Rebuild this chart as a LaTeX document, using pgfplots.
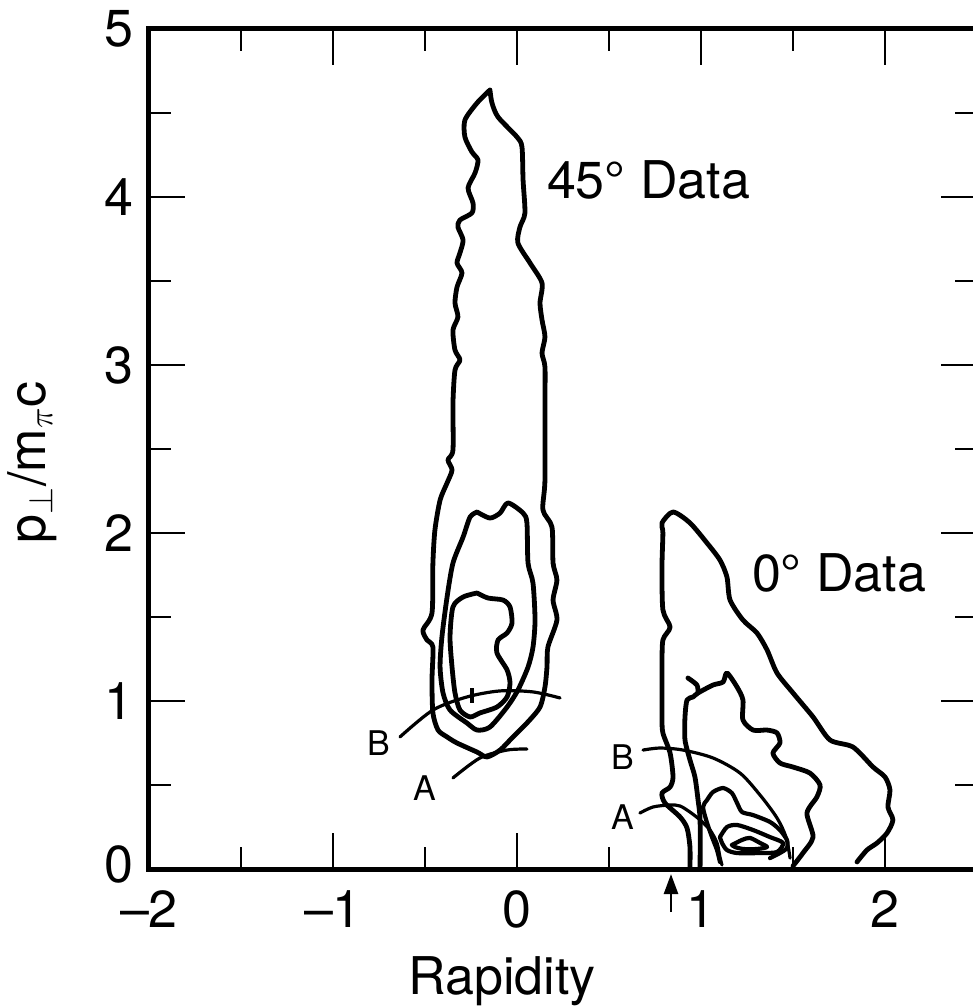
\documentclass[border=0pt]{standalone}
\usepackage{fontspec}
\setmainfont{TeX Gyre Heros}
\usepackage{pgfplots}
\pgfplotsset{compat=1.18}
\usetikzlibrary{arrows.meta}
\pgfplotsset{
  ctr/.style={black, line width=2.4pt, no markers, smooth, tension=0.45, line join=round, line cap=round},
  arc/.style={black, line width=1.6pt, no markers, smooth, tension=0.5, line cap=round},
}
\begin{document}
\begin{tikzpicture}
\begin{axis}[
  at={(0,0)}, anchor=south west, scale only axis,
  width=414pt, height=420pt,
  xmin=-2, xmax=2.5, ymin=0, ymax=5,
  clip=false,
  axis line style={line width=2.5pt},
  tick align=inside,
  major tick length=18pt, minor tick length=11pt,
  tick style={black, line width=1.3pt},
  xtick={-2,-1,0,1,2}, xticklabels={--2,--1,0,1,2},
  ytick={0,1,2,3,4,5}, yticklabels={\raisebox{5pt}{0},1,2,3,4,5},
  minor xtick={-1.5,-0.5,0.5,1.5},
  minor ytick={0.5,1.5,2.5,3.5,4.5},
  tick label style={font=\fontsize{26}{30}\selectfont, inner sep=0pt},
  xticklabel style={yshift=-10.5pt},
  yticklabel style={xshift=-7.5pt},
]
% 45 deg data: outer contour
\addplot[ctr] coordinates {
(-0.147,4.637) (-0.217,4.560) (-0.283,4.458) (-0.283,4.357) (-0.245,4.268)
(-0.212,4.220) (-0.228,4.143) (-0.266,4.054) (-0.239,3.964) (-0.245,3.905)
(-0.310,3.863) (-0.321,3.821) (-0.293,3.744) (-0.310,3.667) (-0.326,3.607)
(-0.299,3.548) (-0.326,3.464) (-0.337,3.369) (-0.321,3.286) (-0.348,3.208)
(-0.337,3.089) (-0.310,3.030) (-0.337,2.970) (-0.348,2.774) (-0.348,2.494)
(-0.375,2.435) (-0.353,2.375) (-0.380,2.298) (-0.418,2.196) (-0.446,2.018)
(-0.457,1.821) (-0.462,1.524) (-0.511,1.423) (-0.489,1.363) (-0.457,1.321)
(-0.462,1.125) (-0.457,0.929) (-0.429,0.827) (-0.380,0.786) (-0.326,0.750)
(-0.217,0.696) (-0.163,0.667) (-0.092,0.708) (-0.022,0.786) (0.054,0.869)
(0.125,0.964) (0.152,1.083) (0.163,1.202) (0.168,1.321) (0.217,1.482)
(0.196,1.601) (0.217,1.720) (0.196,1.821) (0.190,2.036) (0.141,2.137)
(0.152,2.315) (0.152,2.774) (0.152,2.988) (0.136,3.071) (0.152,3.167)
(0.136,3.268) (0.125,3.369) (0.136,3.488) (0.071,3.607) (0.005,3.726)
(0.016,3.821) (0.043,3.905) (0.033,4.101) (0.027,4.298) (0.000,4.357)
(-0.103,4.476) (-0.136,4.560) (-0.147,4.637)
};
% 45 deg: middle contour
\addplot[ctr] coordinates {
(-0.217,2.125) (-0.147,2.089) (-0.092,2.119) (-0.049,2.179) (0.033,2.119)
(0.054,2.060) (0.060,1.821) (0.087,1.702) (0.098,1.482) (0.087,1.321)
(0.060,1.202) (0.005,1.065) (-0.054,0.964) (-0.147,0.845) (-0.217,0.827)
(-0.272,0.869) (-0.364,0.946) (-0.402,1.048) (-0.418,1.202) (-0.408,1.381)
(-0.380,1.619) (-0.348,1.821) (-0.293,1.976) (-0.255,2.095) (-0.217,2.125)
};
% 45 deg: inner contour
\addplot[ctr] coordinates {
(-0.217,1.643) (-0.158,1.613) (-0.076,1.601) (-0.038,1.560) (-0.027,1.464)
(-0.054,1.405) (-0.103,1.363) (-0.109,1.286) (-0.054,1.185) (-0.038,1.107)
(-0.054,1.024) (-0.109,0.964) (-0.201,0.929) (-0.255,0.905) (-0.310,0.946)
(-0.337,1.048) (-0.353,1.202) (-0.364,1.381) (-0.348,1.560) (-0.293,1.619)
(-0.217,1.643)
};
\addplot[black, line width=1.6pt] coordinates {(-0.245,0.99) (-0.245,1.08)};
% 45 deg: arcs B and A
\addplot[arc] coordinates {
(-0.636,0.786) (-0.457,0.946) (-0.272,1.024) (-0.092,1.060) (0.087,1.054) (0.234,1.018)
};
\addplot[arc] coordinates {
(-0.348,0.542) (-0.201,0.661) (-0.054,0.708) (0.054,0.714)
};
% 0 deg data: outer contour
\addplot[ctr] coordinates {
(0.940,0.000) (0.940,0.131) (0.924,0.244) (0.886,0.310) (0.804,0.393)
(0.788,0.452) (0.832,0.488) (0.848,0.548) (0.832,0.690) (0.793,0.810)
(0.788,0.905) (0.788,1.202) (0.793,1.363) (0.832,1.440) (0.793,1.542)
(0.788,1.798) (0.793,2.000) (0.788,2.060) (0.848,2.125) (0.940,2.060)
(1.033,1.940) (1.103,1.839) (1.141,1.738) (1.158,1.601) (1.228,1.482)
(1.304,1.405) (1.359,1.304) (1.413,1.167) (1.500,1.048) (1.609,0.905)
(1.701,0.768) (1.826,0.726) (1.935,0.607) (2.000,0.548) (2.027,0.470)
(2.016,0.369) (2.043,0.292) (2.011,0.214) (1.957,0.155) (1.902,0.113)
(1.848,0.042)
};
% 0 deg: second contour
\addplot[ctr] coordinates {
(0.995,0.000) (0.995,0.292) (0.984,0.411) (0.967,0.548) (0.940,0.649)
(0.913,0.768) (0.913,0.905) (0.924,1.006) (0.957,1.024) (0.984,1.048)
(1.065,1.095) (1.120,1.113) (1.141,1.167) (1.196,1.083) (1.228,1.006)
(1.228,0.887) (1.283,0.827) (1.359,0.827) (1.413,0.810) (1.429,0.750)
(1.391,0.690) (1.429,0.631) (1.500,0.607) (1.592,0.571) (1.647,0.500)
(1.630,0.429) (1.576,0.333) (1.609,0.190) (1.554,0.095) (1.500,0.018)
};
\addplot[ctr] coordinates {(0.929,1.137) (0.978,1.095) (0.984,1.048)};
% 0 deg: third contour
\addplot[ctr, line width=2.1pt] coordinates {
(1.103,0.042) (1.087,0.113) (1.060,0.190) (1.033,0.274) (1.011,0.369)
(1.033,0.411) (1.065,0.458) (1.120,0.482) (1.168,0.452) (1.196,0.393)
(1.223,0.339) (1.283,0.321) (1.375,0.280) (1.429,0.232) (1.467,0.173)
(1.467,0.125) (1.429,0.095) (1.375,0.065)
};
% 0 deg: fourth contour
\addplot[ctr, line width=2.1pt] coordinates {
(1.103,0.190) (1.141,0.250) (1.196,0.262) (1.283,0.232) (1.375,0.190)
(1.446,0.155) (1.413,0.101) (1.321,0.095) (1.196,0.095) (1.141,0.113)
(1.114,0.155) (1.103,0.190)
};
% 0 deg: innermost contour
\addplot[ctr, line width=2.1pt] coordinates {
(1.168,0.143) (1.223,0.173) (1.266,0.185) (1.321,0.155) (1.359,0.131)
(1.304,0.119) (1.228,0.119) (1.185,0.131) (1.168,0.143)
};
% 0 deg: arcs B and A
\addplot[arc] coordinates {
(0.685,0.708) (0.777,0.720) (0.902,0.708) (1.065,0.661) (1.212,0.571)
(1.321,0.440) (1.413,0.304) (1.462,0.190) (1.484,0.065)
};
\addplot[arc] coordinates {
(0.668,0.333) (0.739,0.369) (0.832,0.381) (0.886,0.375) (0.940,0.339)
(0.995,0.292) (1.049,0.232) (1.087,0.155) (1.103,0.071) (1.114,0.024)
};
% labels
\node[anchor=base west, font=\fontsize{26}{30}\selectfont] at (axis cs:0.125,3.99) {45° Data};
\node[anchor=base west, font=\fontsize{26}{30}\selectfont] at (axis cs:1.239,1.65) {0° Data};
\node[font=\fontsize{17}{20}\selectfont] at (axis cs:-0.75,0.75) {B};
\node[font=\fontsize{17}{20}\selectfont] at (axis cs:-0.50,0.482) {A};
\node[font=\fontsize{17}{20}\selectfont] at (axis cs:0.576,0.667) {B};
\node[font=\fontsize{17}{20}\selectfont] at (axis cs:0.576,0.31) {A};
\draw[black, line width=1.3pt, -{Triangle[length=10pt,width=7pt]}] (axis cs:0.837,-0.256) -- (axis cs:0.837,-0.03);
\node[anchor=base, font=\fontsize{26}{30}\selectfont] at (axis cs:-0.082,-0.745) {Rapidity};
\node[rotate=90, anchor=base, font=\fontsize{26}{30}\selectfont] at (axis cs:-2.565,2.42) {p$_{\perp}$/m$_{\pi}$c};
\end{axis}
\pgfresetboundingbox
\path (-74.5pt,-69.5pt) rectangle (412pt,434.5pt);
\end{tikzpicture}
\end{document}
